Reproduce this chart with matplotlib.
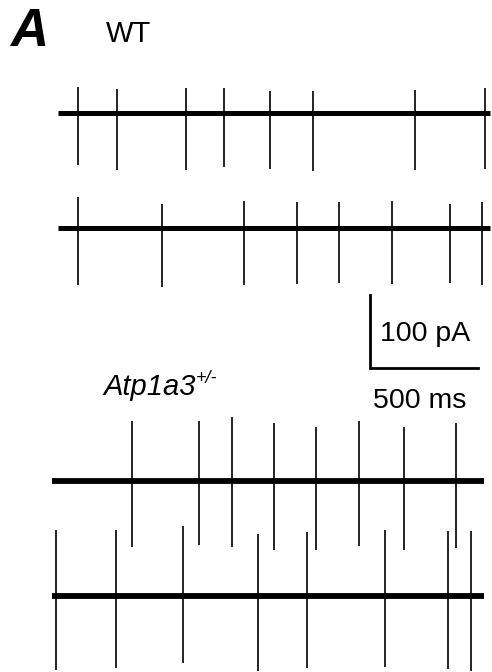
import matplotlib.pyplot as plt
import numpy as np

plt.rcParams['font.family'] = ['Liberation Sans', 'DejaVu Sans']

# Spike times (ms from trace start) and peak amplitudes (pA, relative to baseline)
wt1_times = [91, 272, 591, 767, 983, 1179, 1653, 1977]
wt1_up = [36, 33, 34, 34, 30, 30, 32, 34]
wt1_down = [71, 78, 78, 74, 77, 80, 78, 77]

wt2_times = [91, 483, 861, 1105, 1300, 1548, 1813, 1964]
wt2_up = [42, 33, 37, 35, 36, 37, 33, 36]
wt2_down = [78, 81, 78, 77, 76, 77, 76, 78]

het1_times = [372, 679, 835, 1028, 1222, 1421, 1631, 1870]
het1_up = [82, 82, 88, 80, 74, 82, 74, 79]
het1_down = [90, 88, 91, 95, 94, 89, 95, 92]

het2_times = [20, 298, 608, 952, 1182, 1540, 1833, 1938]
het2_up = [91, 90, 96, 85, 87, 90, 89, 89]
het2_down = [102, 99, 92, 103, 98, 97, 100, 103]

trace_len = 2000  # ms
bar_t, bar_i = 500, 100  # scale bar: ms, pA

# layout: pixels per ms / per pA on the 492x672 canvas
px_ms = 0.216
px_pa = 0.73
W, H = 492, 672

fig = plt.figure(figsize=(W / 100, H / 100), dpi=100)
ax = fig.add_axes([0, 0, 1, 1])
ax.set_xlim(0, W / px_ms)
ax.set_ylim(-H / px_pa, 0)
ax.axis('off')


def draw_trace(x0, base, times, up, down, lw):
    ax.plot([x0, x0 + trace_len], [base, base], color='black', lw=lw,
            solid_capstyle='butt')
    t = x0 + np.array(times)
    ax.vlines(t, base - np.array(down), base + np.array(up), color='black', lw=1.2)


draw_trace(58 / px_ms, -113 / px_pa, wt1_times, wt1_up, wt1_down, 3.6)
draw_trace(58 / px_ms, -228 / px_pa, wt2_times, wt2_up, wt2_down, 3.6)
draw_trace(52 / px_ms, -481 / px_pa, het1_times, het1_up, het1_down, 4.2)
draw_trace(52 / px_ms, -596 / px_pa, het2_times, het2_up, het2_down, 4.2)

# scale bar
sx, sy = 370 / px_ms, -368 / px_pa
ax.plot([sx, sx, sx + bar_t], [sy + bar_i, sy, sy], color='black', lw=2.0,
        solid_joinstyle='miter')

fig.text(10 / W, 1 - 46 / H, 'A', fontsize=38, fontweight='bold', fontstyle='italic')
fig.text(106 / W, 1 - 42 / H, 'WT', fontsize=21)
fig.text(380 / W, 1 - 341 / H, f'{bar_i} pA', fontsize=20.5)
fig.text(420 / W, 1 - 408 / H, f'{bar_t} ms', fontsize=20.5, ha='center')
t = fig.text(103 / W, 1 - 395 / H, 'Atp1a3', fontsize=21, fontstyle='italic')
fig.add_artist(plt.Annotation('+/-', xy=(1, 1), xycoords=t, xytext=(0, 2),
                              textcoords='offset points', va='top', ha='left',
                              fontsize=13, fontstyle='italic'))

fig.savefig('out.png', dpi=100)
